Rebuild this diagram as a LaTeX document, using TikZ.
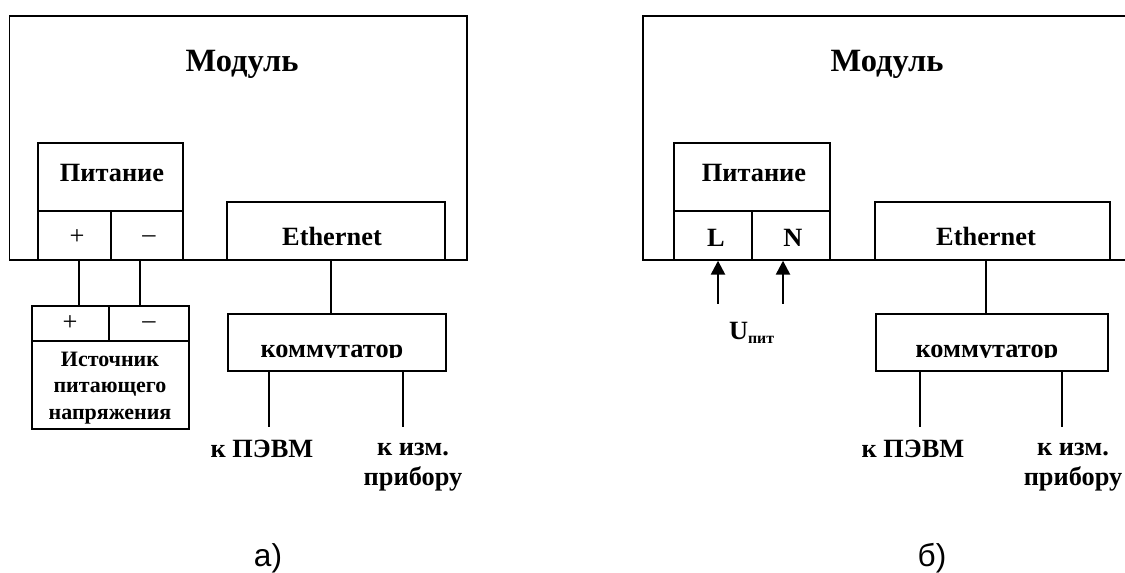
\documentclass[tikz,border=0pt]{standalone}
\usepackage{fontspec}
\setmainfont{Liberation Serif}
\newfontfamily\capfont{Liberation Sans}
\usetikzlibrary{arrows.meta}

\begin{document}
\begin{tikzpicture}[x=0.02cm, y=-0.02cm, line width=0.8pt,
    box/.style={draw, rectangle, inner sep=0pt},
    lbl/.style={inner sep=0pt, font=\fontsize{15}{17}\selectfont\bfseries, align=center},
    title/.style={inner sep=0pt, font=\fontsize{18.5}{22}\selectfont\bfseries},
    small/.style={inner sep=0pt, font=\fontsize{12.5}{15.2}\selectfont\bfseries, align=center},
    sign/.style={inner sep=0pt, font=\fontsize{15}{17}\selectfont},
    subcap/.style={inner sep=0pt, font=\fontsize{18}{20}\selectfont\capfont},
    feed/.style={line width=1.4pt, -{Triangle[width=8pt,length=8pt]}}]
  \useasboundingbox (0,0) rectangle (1125,573);
  \clip (0,0) rectangle (1125,573);

  % схема а)
  % модуль
  \node[box, minimum width=9.15cm, minimum height=4.88cm] (modA) at (238.25,138) {};
  \node[title, anchor=base] (tA) at (242,72) {Модуль};
  % питание и клеммы
  \node[box, minimum width=2.9cm, minimum height=1.36cm] (pitA) at (110.5,177) {};
  \node[lbl, anchor=base] at (112,182) {Питание};
  \node[box, minimum width=1.46cm, minimum height=0.98cm] (plA) at (74.5,235.5) {};
  \node[box, minimum width=1.44cm, minimum height=0.98cm] (mnA) at (147,235.5) {};
  \node[sign] at (77,237) {+};
  \node[sign] at (149,239) {–};
  % ethernet
  \node[box, minimum width=4.36cm, minimum height=1.16cm] (ethA) at (336,231) {};
  \node[lbl, anchor=base] at (332,246) {Ethernet};
  % источник
  \node[box, minimum width=1.54cm, minimum height=0.7cm] (srcpA) at (70.5,323.5) {};
  \node[box, minimum width=1.6cm, minimum height=0.7cm] (srcmA) at (149,323.5) {};
  \node[sign] at (70,323) {+};
  \node[sign] at (149,325) {–};
  \node[box, minimum width=3.14cm, minimum height=1.76cm] (srcA) at (110.5,385) {};
  \node[small] at (110,388) {Источник\\питающего\\напряжения};
  % коммутатор
  \node[box, minimum width=4.36cm, minimum height=1.14cm] (komA) at (337,342.5) {};
  \begin{scope}
    \clip (228,316) rectangle (446,357.5);
    \node[lbl, anchor=base] at (332,358) {коммутатор};
  \end{scope}
  % провода
  \coordinate (wplA) at (79,260);
  \coordinate (wmnA) at (140,260);
  \coordinate (weA) at (331,260);
  \coordinate (pcA) at (269,427);
  \coordinate (izA) at (403,427);
  \draw (wplA) -- (wplA |- srcpA.north);
  \draw (wmnA) -- (wmnA |- srcmA.north);
  \draw (weA) -- (weA |- komA.north);
  \draw (pcA |- komA.south) -- (pcA);
  \draw (izA |- komA.south) -- (izA);
  \node[lbl, anchor=base] at (262,458) {к ПЭВМ};
  \node[lbl] at (413,467) {к изм.\\прибору};
  \node[subcap] at (268,558) {а)};

  % схема б)
  \node[box, minimum width=9.84cm, minimum height=4.88cm] (modB) at (889,138) {};
  \node[title, anchor=base] (tB) at (887,72) {Модуль};
  \node[box, minimum width=3.12cm, minimum height=1.36cm] (pitB) at (752,177) {};
  \node[lbl, anchor=base] at (754,182) {Питание};
  \node[box, minimum width=1.56cm, minimum height=0.98cm] (LB) at (713,235.5) {};
  \node[box, minimum width=1.56cm, minimum height=0.98cm] (NB) at (791,235.5) {};
  \node[lbl, anchor=base] at (716,247) {L};
  \node[lbl, anchor=base] at (793,247) {N};
  \node[box, minimum width=4.7cm, minimum height=1.16cm] (ethB) at (992.5,231) {};
  \node[lbl, anchor=base] at (986,246) {Ethernet};
  \node[box, minimum width=4.64cm, minimum height=1.14cm] (komB) at (992,342.5) {};
  \begin{scope}
    \clip (876,316) rectangle (1108,357.5);
    \node[lbl, anchor=base] at (987,358) {коммутатор};
  \end{scope}
  % питающее напряжение
  \coordinate (uL) at (718,304);
  \coordinate (uN) at (783,304);
  \draw[feed] (uL) -- (uL |- LB.south);
  \draw[feed] (uN) -- (uN |- NB.south);
  \node[lbl, anchor=base] at (752,340) {U\textsubscript{\fontsize{9}{10}\selectfont пит}};
  % провода
  \coordinate (weB) at (986,260);
  \coordinate (pcB) at (920,427);
  \coordinate (izB) at (1062,427);
  \draw (weB) -- (weB |- komB.north);
  \draw (pcB |- komB.south) -- (pcB);
  \draw (izB |- komB.south) -- (izB);
  \node[lbl, anchor=base] at (913,458) {к ПЭВМ};
  \node[lbl] at (1073,467) {к изм.\\прибору};
  \node[subcap] at (932,558) {б)};
\end{tikzpicture}
\end{document}
